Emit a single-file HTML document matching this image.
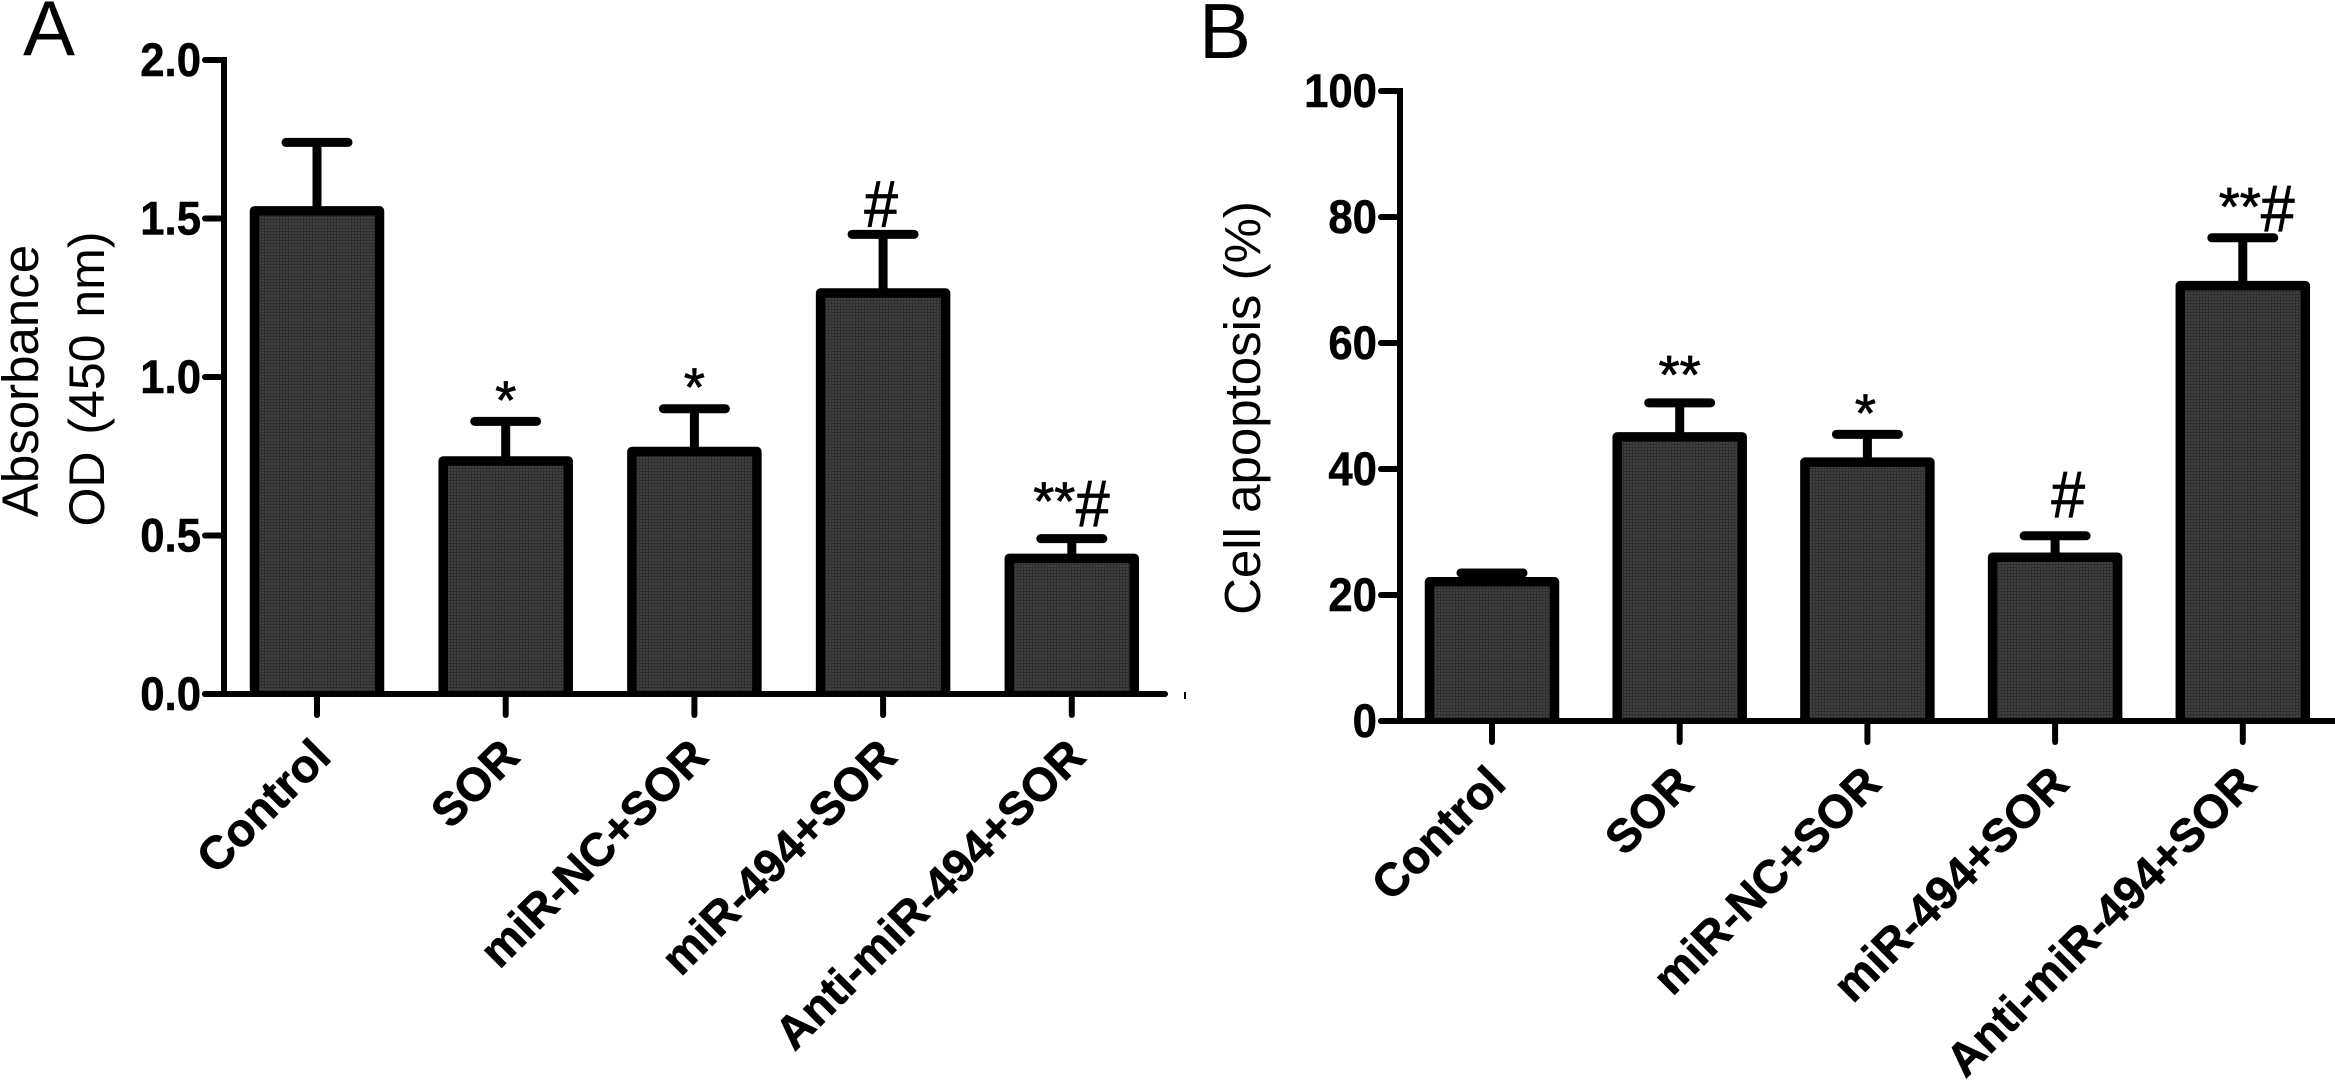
<!DOCTYPE html>
<html lang="en">
<head>
<meta charset="utf-8">
<title>Absorbance and cell apoptosis bar charts</title>
<style>
html,body{margin:0;padding:0;background:#fff;}
svg{display:block;}
text{font-family:"Liberation Sans",sans-serif;fill:#000;}
</style>
</head>
<body>
<svg id="fig" xmlns="http://www.w3.org/2000/svg" width="2335" height="1080" viewBox="0 0 2335 1080">
  <defs>
    <pattern id="mesh" width="3" height="3" patternUnits="userSpaceOnUse">
      <rect width="3" height="3" fill="#414141"/>
      <rect width="1" height="3" fill="#2f2f2f"/>
      <rect width="3" height="1" fill="#2f2f2f"/>
    </pattern>
  </defs>
  <text x="23" y="55" font-size="78">A</text>
  <text x="1199" y="58" font-size="78">B</text>
  <text transform="translate(38,381) rotate(-90)" text-anchor="middle" font-size="51">Absorbance</text>
  <text transform="translate(104,379) rotate(-90)" text-anchor="middle" font-size="50" word-spacing="3">OD (450 nm)</text>
  <text transform="translate(1260,408) rotate(-90)" text-anchor="middle" font-size="51">Cell apoptosis (%)</text>
  <rect x="1184" y="692" width="2" height="7" fill="#000"/>
  <g id="panelA"></g>
  <g id="panelB"></g>
</svg>
<script>
const categories = ['Control', 'SOR', 'miR-NC+SOR', 'miR-494+SOR', 'Anti-miR-494+SOR'];
const absorbanceMeans = [1.524, 0.735, 0.765, 1.265, 0.428];
const absorbanceUpper = [1.74, 0.86, 0.90, 1.45, 0.49];
const absorbanceTicks = ['0.0', '0.5', '1.0', '1.5', '2.0'];
const absorbanceNotes = ['', '*', '*', '#', '**#'];
const apoptosisMeans = [22.1, 45.1, 41.1, 26.0, 69.1];
const apoptosisUpper = [23.5, 50.5, 45.5, 29.4, 76.7];
const apoptosisTicks = ['0', '20', '40', '60', '80', '100'];
const apoptosisNotes = ['', '**', '*', '#', '**#'];

const SVGNS = 'http://www.w3.org/2000/svg';
function make(parent, tag, attrs) {
  const node = document.createElementNS(SVGNS, tag);
  for (const key in attrs) node.setAttribute(key, attrs[key]);
  parent.appendChild(node);
  return node;
}

function drawPanel(opts) {
  const root = document.getElementById(opts.id);
  const yScale = function (v) {
    return opts.baseY - (v / opts.maxValue) * (opts.baseY - opts.topY);
  };
  const xScale = function (i) {
    return opts.firstX + i * opts.stepX;
  };

  opts.means.forEach(function (mean, i) {
    const cx = xScale(i);
    const top = yScale(mean);
    const capY = yScale(opts.upper[i]);
    const left = cx - opts.barW / 2;
    const right = cx + opts.barW / 2;

    const stem = make(root, 'line', {x1: cx, x2: cx, y1: capY, y2: top, stroke: '#000', 'stroke-width': 9});
    
    

    const cap = make(root, 'line', {x1: cx - opts.capW / 2, x2: cx + opts.capW / 2, y1: capY, y2: capY, stroke: '#000', 'stroke-width': 9, 'stroke-linecap': 'round'});
    
    

    const bar = make(root, 'rect', {x: left, y: top, width: opts.barW, height: opts.baseY - top, fill: 'url(#mesh)'});
    
    

    const outline = make(root, 'path', {
      d: 'M' + left + ' ' + opts.baseY + 'V' + top + 'H' + right + 'V' + opts.baseY,
      fill: 'none', stroke: '#000', 'stroke-width': 9.5, 'stroke-linejoin': 'round'
    });
    
    

    const tick = make(root, 'line', {x1: cx, x2: cx, y1: opts.baseY, y2: opts.baseY + 21, stroke: '#000', 'stroke-width': 6, 'stroke-linecap': 'round'});
    
    

    const label = make(root, 'text', {
      transform: 'translate(' + (cx + 16) + ',' + (opts.baseY + 65) + ') rotate(-45)',
      'text-anchor': 'end', 'font-size': 46.5, 'font-weight': 'bold', stroke: '#000', 'stroke-width': 0.7
    });
    
    
    label.textContent = categories[i];

    const note = opts.notes[i];
    const stars = note.replace('#', '');
    if (stars) {
      const starMark = make(root, 'text', {
        x: cx + opts.starDx[i], y: capY + opts.starDy[i], 'text-anchor': 'middle',
        'font-size': 54, stroke: '#000', 'stroke-width': 0.8
      });
      
      
      starMark.textContent = stars;
    }
    if (note.indexOf('#') >= 0) {
      const hashMark = make(root, 'text', {
        transform: 'translate(' + (cx + opts.hashDx[i]) + ',' + (capY + opts.hashDy[i]) + ') scale(0.92,1)',
        'text-anchor': 'middle', 'font-size': 66, stroke: '#000', 'stroke-width': 0.8
      });
      
      
      hashMark.textContent = '#';
    }
  });

  const yAxis = make(root, 'line', {x1: opts.axisX, x2: opts.axisX, y1: opts.topY - 3, y2: opts.baseY + 3, stroke: '#000', 'stroke-width': 6});
  
  

  const xAxis = make(root, 'line', {x1: opts.axisX - 19, x2: opts.axisEnd, y1: opts.baseY, y2: opts.baseY, stroke: '#000', 'stroke-width': 6, 'stroke-linecap': 'round'});
  
  

  opts.ticks.forEach(function (t) {
    const y = yScale(parseFloat(t));
    const tick = make(root, 'line', {x1: opts.axisX - 19, x2: opts.axisX, y1: y, y2: y, stroke: '#000', 'stroke-width': 6, 'stroke-linecap': 'round'});
    
    

    const label = make(root, 'text', {
      transform: 'translate(' + (opts.axisX - 23) + ',' + (y + 16) + ') scale(0.93,1)',
      'text-anchor': 'end', 'font-size': 47, 'font-weight': 'bold', stroke: '#000', 'stroke-width': 0.5
    });
    
    
    label.textContent = t;
  });
}

drawPanel({
  id: 'panelA', means: absorbanceMeans, upper: absorbanceUpper, ticks: absorbanceTicks, notes: absorbanceNotes,
  maxValue: 2, baseY: 694, topY: 60, axisX: 224, axisEnd: 1165, firstX: 317, stepX: 188.7,
  barW: 125, capW: 62,
  starDx: [0, 0, 0, 0, -17.5], starDy: [0, -3, -3, 0, -19],
  hashDx: [0, 0, 0, -2, 21], hashDy: [0, 0, 0, -8, -12.5]
});
drawPanel({
  id: 'panelB', means: apoptosisMeans, upper: apoptosisUpper, ticks: apoptosisTicks, notes: apoptosisNotes,
  maxValue: 100, baseY: 721, topY: 91, axisX: 1400, axisEnd: 2335, firstX: 1492, stepX: 187.7,
  barW: 125, capW: 62,
  starDx: [0, 0, -2, 0, -3], starDy: [0, -10, -3, 0, -13],
  hashDx: [0, 0, 0, 13, 35], hashDy: [0, 0, 0, -19, -7]
});
</script>
</body>
</html>
